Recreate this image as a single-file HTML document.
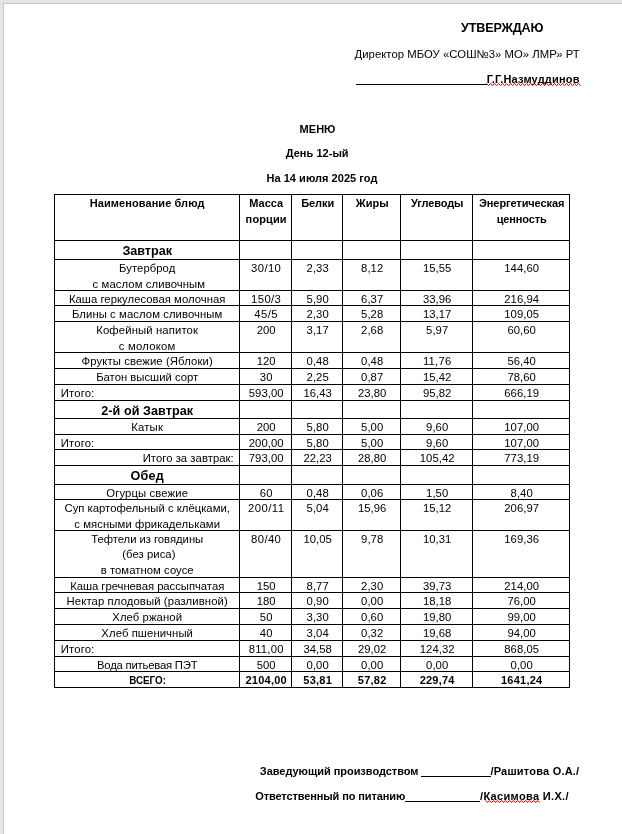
<!DOCTYPE html>
<html lang="ru"><head><meta charset="utf-8"><title>Меню</title>
<style>
html,body{margin:0;padding:0}
body{width:622px;height:834px;overflow:hidden;background:#e6e6e6;position:relative;font-family:"Liberation Sans",sans-serif;color:#000}
#page{position:absolute;left:3px;top:3px;width:619px;height:831px;background:#fff;box-shadow:inset 1px 1px 0 #c3c3c3}
#doc{position:absolute;left:0;top:0;width:622px;height:834px;will-change:transform}
.t{position:absolute;white-space:nowrap;line-height:15px;height:15px;text-align:center;font-size:11.3px}
.b{font-weight:bold;font-size:11.0px}
.h{font-weight:bold;font-size:12.6px}
.hl{position:absolute;left:54px;width:516px;height:1px;background:#000}
.vl{position:absolute;top:194px;height:494px;width:1px;background:#000}
.wv{position:absolute;overflow:visible}
.ul{position:absolute;height:1px;background:#000}
</style></head><body>
<div id="page"></div>
<div id="doc">
<div class="hl" style="top:194px"></div>
<div class="hl" style="top:240px"></div>
<div class="hl" style="top:259px"></div>
<div class="hl" style="top:290px"></div>
<div class="hl" style="top:305px"></div>
<div class="hl" style="top:321px"></div>
<div class="hl" style="top:352px"></div>
<div class="hl" style="top:368px"></div>
<div class="hl" style="top:384px"></div>
<div class="hl" style="top:400px"></div>
<div class="hl" style="top:418px"></div>
<div class="hl" style="top:434px"></div>
<div class="hl" style="top:449px"></div>
<div class="hl" style="top:465px"></div>
<div class="hl" style="top:484px"></div>
<div class="hl" style="top:499px"></div>
<div class="hl" style="top:530px"></div>
<div class="hl" style="top:577px"></div>
<div class="hl" style="top:592px"></div>
<div class="hl" style="top:608px"></div>
<div class="hl" style="top:624px"></div>
<div class="hl" style="top:640px"></div>
<div class="hl" style="top:656px"></div>
<div class="hl" style="top:671px"></div>
<div class="hl" style="top:687px"></div>
<div class="vl" style="left:54px"></div>
<div class="vl" style="left:239px"></div>
<div class="vl" style="left:291px"></div>
<div class="vl" style="left:342px"></div>
<div class="vl" style="left:400px"></div>
<div class="vl" style="left:472px"></div>
<div class="vl" style="left:569px"></div>
<div class="t b" style="left:55.20px;top:195.80px;width:184.00px;letter-spacing:0.069px;"><span>Наименование блюд</span></div>
<div class="t b" style="left:240.70px;top:195.80px;width:51.00px;letter-spacing:-0.034px;"><span>Масса</span></div>
<div class="t b" style="left:240.70px;top:211.80px;width:51.00px;letter-spacing:0.128px;"><span>порции</span></div>
<div class="t b" style="left:292.70px;top:195.80px;width:50.00px;letter-spacing:-0.090px;"><span>Белки</span></div>
<div class="t b" style="left:343.70px;top:195.80px;width:57.00px;letter-spacing:0.056px;"><span>Жиры</span></div>
<div class="t b" style="left:401.70px;top:195.80px;width:71.00px;letter-spacing:-0.108px;"><span>Углеводы</span></div>
<div class="t b" style="left:473.70px;top:195.80px;width:96.00px;letter-spacing:-0.095px;"><span>Энергетическая</span></div>
<div class="t b" style="left:473.70px;top:211.80px;width:96.00px;letter-spacing:-0.130px;"><span>ценность</span></div>
<div class="t h" style="left:55.20px;top:243.80px;width:184.00px;letter-spacing:-0.022px;"><span>Завтрак</span></div>
<div class="t n" style="left:55.20px;top:260.80px;width:184.00px;letter-spacing:0.065px;"><span>Бутерброд</span></div>
<div class="t n" style="left:56.90px;top:276.80px;width:184.00px;letter-spacing:0.100px;"><span>с маслом сливочным</span></div>
<div class="t n" style="left:240.70px;top:260.80px;width:51.00px;letter-spacing:0.392px;"><span>30/10</span></div>
<div class="t n" style="left:292.70px;top:260.80px;width:50.00px;letter-spacing:0.045px;"><span>2,33</span></div>
<div class="t n" style="left:343.70px;top:260.80px;width:57.00px;letter-spacing:0.045px;"><span>8,12</span></div>
<div class="t n" style="left:401.70px;top:260.80px;width:71.00px;letter-spacing:0.050px;"><span>15,55</span></div>
<div class="t n" style="left:473.70px;top:260.80px;width:96.00px;letter-spacing:0.053px;"><span>144,60</span></div>
<div class="t n" style="left:55.20px;top:291.80px;width:184.00px;letter-spacing:0.031px;"><span>Каша геркулесовая молочная</span></div>
<div class="t n" style="left:240.70px;top:291.80px;width:51.00px;letter-spacing:0.392px;"><span>150/3</span></div>
<div class="t n" style="left:292.70px;top:291.80px;width:50.00px;letter-spacing:0.045px;"><span>5,90</span></div>
<div class="t n" style="left:343.70px;top:291.80px;width:57.00px;letter-spacing:0.045px;"><span>6,37</span></div>
<div class="t n" style="left:401.70px;top:291.80px;width:71.00px;letter-spacing:0.050px;"><span>33,96</span></div>
<div class="t n" style="left:473.70px;top:291.80px;width:96.00px;letter-spacing:0.053px;"><span>216,94</span></div>
<div class="t n" style="left:55.20px;top:306.80px;width:184.00px;letter-spacing:0.079px;"><span>Блины с маслом сливочным</span></div>
<div class="t n" style="left:240.70px;top:306.80px;width:51.00px;letter-spacing:0.473px;"><span>45/5</span></div>
<div class="t n" style="left:292.70px;top:306.80px;width:50.00px;letter-spacing:0.045px;"><span>2,30</span></div>
<div class="t n" style="left:343.70px;top:306.80px;width:57.00px;letter-spacing:0.045px;"><span>5,28</span></div>
<div class="t n" style="left:401.70px;top:306.80px;width:71.00px;letter-spacing:0.050px;"><span>13,17</span></div>
<div class="t n" style="left:473.70px;top:306.80px;width:96.00px;letter-spacing:0.053px;"><span>109,05</span></div>
<div class="t n" style="left:55.20px;top:322.80px;width:184.00px;letter-spacing:0.129px;"><span>Кофейный напиток</span></div>
<div class="t n" style="left:55.20px;top:338.80px;width:184.00px;letter-spacing:0.220px;"><span>с молоком</span></div>
<div class="t n" style="left:240.70px;top:322.80px;width:51.00px;letter-spacing:0.064px;"><span>200</span></div>
<div class="t n" style="left:292.70px;top:322.80px;width:50.00px;letter-spacing:0.045px;"><span>3,17</span></div>
<div class="t n" style="left:343.70px;top:322.80px;width:57.00px;letter-spacing:0.045px;"><span>2,68</span></div>
<div class="t n" style="left:401.70px;top:322.80px;width:71.00px;letter-spacing:0.045px;"><span>5,97</span></div>
<div class="t n" style="left:473.70px;top:322.80px;width:96.00px;letter-spacing:0.050px;"><span>60,60</span></div>
<div class="t n" style="left:55.20px;top:353.80px;width:184.00px;letter-spacing:0.108px;"><span>Фрукты свежие (Яблоки)</span></div>
<div class="t n" style="left:240.70px;top:353.80px;width:51.00px;letter-spacing:0.064px;"><span>120</span></div>
<div class="t n" style="left:292.70px;top:353.80px;width:50.00px;letter-spacing:0.045px;"><span>0,48</span></div>
<div class="t n" style="left:343.70px;top:353.80px;width:57.00px;letter-spacing:0.045px;"><span>0,48</span></div>
<div class="t n" style="left:401.70px;top:353.80px;width:71.00px;letter-spacing:0.218px;"><span>11,76</span></div>
<div class="t n" style="left:473.70px;top:353.80px;width:96.00px;letter-spacing:0.050px;"><span>56,40</span></div>
<div class="t n" style="left:55.20px;top:369.80px;width:184.00px;letter-spacing:0.002px;"><span>Батон высший сорт</span></div>
<div class="t n" style="left:240.70px;top:369.80px;width:51.00px;letter-spacing:0.062px;"><span>30</span></div>
<div class="t n" style="left:292.70px;top:369.80px;width:50.00px;letter-spacing:0.045px;"><span>2,25</span></div>
<div class="t n" style="left:343.70px;top:369.80px;width:57.00px;letter-spacing:0.045px;"><span>0,87</span></div>
<div class="t n" style="left:401.70px;top:369.80px;width:71.00px;letter-spacing:0.050px;"><span>15,42</span></div>
<div class="t n" style="left:473.70px;top:369.80px;width:96.00px;letter-spacing:0.050px;"><span>78,60</span></div>
<div class="t n" style="left:60.80px;top:385.80px;width:177.00px;text-align:left;letter-spacing:0.127px;"><span>Итого:</span></div>
<div class="t n" style="left:240.70px;top:385.80px;width:51.00px;letter-spacing:0.053px;"><span>593,00</span></div>
<div class="t n" style="left:292.70px;top:385.80px;width:50.00px;letter-spacing:0.050px;"><span>16,43</span></div>
<div class="t n" style="left:343.70px;top:385.80px;width:57.00px;letter-spacing:0.050px;"><span>23,80</span></div>
<div class="t n" style="left:401.70px;top:385.80px;width:71.00px;letter-spacing:0.050px;"><span>95,82</span></div>
<div class="t n" style="left:473.70px;top:385.80px;width:96.00px;letter-spacing:0.053px;"><span>666,19</span></div>
<div class="t h" style="left:55.20px;top:403.80px;width:184.00px;letter-spacing:0.079px;"><span>2-й ой Завтрак</span></div>
<div class="t n" style="left:55.20px;top:419.80px;width:184.00px;letter-spacing:0.174px;"><span>Катык</span></div>
<div class="t n" style="left:240.70px;top:419.80px;width:51.00px;letter-spacing:0.064px;"><span>200</span></div>
<div class="t n" style="left:292.70px;top:419.80px;width:50.00px;letter-spacing:0.045px;"><span>5,80</span></div>
<div class="t n" style="left:343.70px;top:419.80px;width:57.00px;letter-spacing:0.045px;"><span>5,00</span></div>
<div class="t n" style="left:401.70px;top:419.80px;width:71.00px;letter-spacing:0.045px;"><span>9,60</span></div>
<div class="t n" style="left:473.70px;top:419.80px;width:96.00px;letter-spacing:0.053px;"><span>107,00</span></div>
<div class="t n" style="left:60.80px;top:435.80px;width:177.00px;text-align:left;letter-spacing:0.127px;"><span>Итого:</span></div>
<div class="t n" style="left:240.70px;top:435.80px;width:51.00px;letter-spacing:0.053px;"><span>200,00</span></div>
<div class="t n" style="left:292.70px;top:435.80px;width:50.00px;letter-spacing:0.045px;"><span>5,80</span></div>
<div class="t n" style="left:343.70px;top:435.80px;width:57.00px;letter-spacing:0.045px;"><span>5,00</span></div>
<div class="t n" style="left:401.70px;top:435.80px;width:71.00px;letter-spacing:0.045px;"><span>9,60</span></div>
<div class="t n" style="left:473.70px;top:435.80px;width:96.00px;letter-spacing:0.053px;"><span>107,00</span></div>
<div class="t n" style="left:55.20px;top:450.80px;width:178.50px;text-align:right;letter-spacing:0.037px;"><span>Итого за завтрак:</span></div>
<div class="t n" style="left:240.70px;top:450.80px;width:51.00px;letter-spacing:0.053px;"><span>793,00</span></div>
<div class="t n" style="left:292.70px;top:450.80px;width:50.00px;letter-spacing:0.050px;"><span>22,23</span></div>
<div class="t n" style="left:343.70px;top:450.80px;width:57.00px;letter-spacing:0.050px;"><span>28,80</span></div>
<div class="t n" style="left:401.70px;top:450.80px;width:71.00px;letter-spacing:0.053px;"><span>105,42</span></div>
<div class="t n" style="left:473.70px;top:450.80px;width:96.00px;letter-spacing:0.053px;"><span>773,19</span></div>
<div class="t h" style="left:55.20px;top:468.80px;width:184.00px;letter-spacing:0.188px;"><span>Обед</span></div>
<div class="t n" style="left:55.20px;top:485.80px;width:184.00px;letter-spacing:0.120px;"><span>Огурцы свежие</span></div>
<div class="t n" style="left:240.70px;top:485.80px;width:51.00px;letter-spacing:0.062px;"><span>60</span></div>
<div class="t n" style="left:292.70px;top:485.80px;width:50.00px;letter-spacing:0.045px;"><span>0,48</span></div>
<div class="t n" style="left:343.70px;top:485.80px;width:57.00px;letter-spacing:0.045px;"><span>0,06</span></div>
<div class="t n" style="left:401.70px;top:485.80px;width:71.00px;letter-spacing:0.045px;"><span>1,50</span></div>
<div class="t n" style="left:473.70px;top:485.80px;width:96.00px;letter-spacing:0.045px;"><span>8,40</span></div>
<div class="t n" style="left:55.20px;top:500.80px;width:184.00px;letter-spacing:0.003px;"><span>Суп картофельный с клёцками,</span></div>
<div class="t n" style="left:55.20px;top:516.80px;width:184.00px;letter-spacing:0.089px;"><span>с мясными фрикадельками</span></div>
<div class="t n" style="left:240.70px;top:500.80px;width:51.00px;letter-spacing:0.479px;"><span>200/11</span></div>
<div class="t n" style="left:292.70px;top:500.80px;width:50.00px;letter-spacing:0.045px;"><span>5,04</span></div>
<div class="t n" style="left:343.70px;top:500.80px;width:57.00px;letter-spacing:0.050px;"><span>15,96</span></div>
<div class="t n" style="left:401.70px;top:500.80px;width:71.00px;letter-spacing:0.050px;"><span>15,12</span></div>
<div class="t n" style="left:473.70px;top:500.80px;width:96.00px;letter-spacing:0.053px;"><span>206,97</span></div>
<div class="t n" style="left:55.20px;top:531.80px;width:184.00px;letter-spacing:-0.035px;"><span>Тефтели из говядины</span></div>
<div class="t n" style="left:56.90px;top:546.80px;width:184.00px;letter-spacing:0.055px;"><span>(без риса)</span></div>
<div class="t n" style="left:55.20px;top:562.80px;width:184.00px;letter-spacing:0.048px;"><span>в томатном соусе</span></div>
<div class="t n" style="left:240.70px;top:531.80px;width:51.00px;letter-spacing:0.392px;"><span>80/40</span></div>
<div class="t n" style="left:292.70px;top:531.80px;width:50.00px;letter-spacing:0.050px;"><span>10,05</span></div>
<div class="t n" style="left:343.70px;top:531.80px;width:57.00px;letter-spacing:0.045px;"><span>9,78</span></div>
<div class="t n" style="left:401.70px;top:531.80px;width:71.00px;letter-spacing:0.050px;"><span>10,31</span></div>
<div class="t n" style="left:473.70px;top:531.80px;width:96.00px;letter-spacing:0.053px;"><span>169,36</span></div>
<div class="t n" style="left:55.20px;top:578.80px;width:184.00px;letter-spacing:-0.034px;"><span>Каша гречневая рассыпчатая</span></div>
<div class="t n" style="left:240.70px;top:578.80px;width:51.00px;letter-spacing:0.064px;"><span>150</span></div>
<div class="t n" style="left:292.70px;top:578.80px;width:50.00px;letter-spacing:0.045px;"><span>8,77</span></div>
<div class="t n" style="left:343.70px;top:578.80px;width:57.00px;letter-spacing:0.045px;"><span>2,30</span></div>
<div class="t n" style="left:401.70px;top:578.80px;width:71.00px;letter-spacing:0.050px;"><span>39,73</span></div>
<div class="t n" style="left:473.70px;top:578.80px;width:96.00px;letter-spacing:0.053px;"><span>214,00</span></div>
<div class="t n" style="left:55.20px;top:593.80px;width:184.00px;letter-spacing:0.109px;"><span>Нектар плодовый (разливной)</span></div>
<div class="t n" style="left:240.70px;top:593.80px;width:51.00px;letter-spacing:0.064px;"><span>180</span></div>
<div class="t n" style="left:292.70px;top:593.80px;width:50.00px;letter-spacing:0.045px;"><span>0,90</span></div>
<div class="t n" style="left:343.70px;top:593.80px;width:57.00px;letter-spacing:0.045px;"><span>0,00</span></div>
<div class="t n" style="left:401.70px;top:593.80px;width:71.00px;letter-spacing:0.050px;"><span>18,18</span></div>
<div class="t n" style="left:473.70px;top:593.80px;width:96.00px;letter-spacing:0.050px;"><span>76,00</span></div>
<div class="t n" style="left:55.20px;top:609.80px;width:184.00px;letter-spacing:0.075px;"><span>Хлеб ржаной</span></div>
<div class="t n" style="left:240.70px;top:609.80px;width:51.00px;letter-spacing:0.062px;"><span>50</span></div>
<div class="t n" style="left:292.70px;top:609.80px;width:50.00px;letter-spacing:0.045px;"><span>3,30</span></div>
<div class="t n" style="left:343.70px;top:609.80px;width:57.00px;letter-spacing:0.045px;"><span>0,60</span></div>
<div class="t n" style="left:401.70px;top:609.80px;width:71.00px;letter-spacing:0.050px;"><span>19,80</span></div>
<div class="t n" style="left:473.70px;top:609.80px;width:96.00px;letter-spacing:0.050px;"><span>99,00</span></div>
<div class="t n" style="left:55.20px;top:625.80px;width:184.00px;letter-spacing:0.087px;"><span>Хлеб пшеничный</span></div>
<div class="t n" style="left:240.70px;top:625.80px;width:51.00px;letter-spacing:0.062px;"><span>40</span></div>
<div class="t n" style="left:292.70px;top:625.80px;width:50.00px;letter-spacing:0.045px;"><span>3,04</span></div>
<div class="t n" style="left:343.70px;top:625.80px;width:57.00px;letter-spacing:0.045px;"><span>0,32</span></div>
<div class="t n" style="left:401.70px;top:625.80px;width:71.00px;letter-spacing:0.050px;"><span>19,68</span></div>
<div class="t n" style="left:473.70px;top:625.80px;width:96.00px;letter-spacing:0.050px;"><span>94,00</span></div>
<div class="t n" style="left:60.80px;top:641.80px;width:177.00px;text-align:left;letter-spacing:0.127px;"><span>Итого:</span></div>
<div class="t n" style="left:240.70px;top:641.80px;width:51.00px;letter-spacing:0.194px;"><span>811,00</span></div>
<div class="t n" style="left:292.70px;top:641.80px;width:50.00px;letter-spacing:0.050px;"><span>34,58</span></div>
<div class="t n" style="left:343.70px;top:641.80px;width:57.00px;letter-spacing:0.050px;"><span>29,02</span></div>
<div class="t n" style="left:401.70px;top:641.80px;width:71.00px;letter-spacing:0.053px;"><span>124,32</span></div>
<div class="t n" style="left:473.70px;top:641.80px;width:96.00px;letter-spacing:0.053px;"><span>868,05</span></div>
<div class="t n" style="left:55.20px;top:657.80px;width:184.00px;letter-spacing:-0.206px;"><span>Вода питьевая ПЭТ</span></div>
<div class="t n" style="left:240.70px;top:657.80px;width:51.00px;letter-spacing:0.064px;"><span>500</span></div>
<div class="t n" style="left:292.70px;top:657.80px;width:50.00px;letter-spacing:0.045px;"><span>0,00</span></div>
<div class="t n" style="left:343.70px;top:657.80px;width:57.00px;letter-spacing:0.045px;"><span>0,00</span></div>
<div class="t n" style="left:401.70px;top:657.80px;width:71.00px;letter-spacing:0.045px;"><span>0,00</span></div>
<div class="t n" style="left:473.70px;top:657.80px;width:96.00px;letter-spacing:0.045px;"><span>0,00</span></div>
<div class="t b" style="left:55.20px;top:672.80px;width:184.00px;"><span style="display:inline-block;transform:scaleX(0.8931);transform-origin:50% 50%">ВСЕГО:</span></div>
<div class="t b" style="left:240.70px;top:672.80px;width:51.00px;letter-spacing:0.224px;"><span>2104,00</span></div>
<div class="t b" style="left:292.70px;top:672.80px;width:50.00px;letter-spacing:0.220px;"><span>53,81</span></div>
<div class="t b" style="left:343.70px;top:672.80px;width:57.00px;letter-spacing:0.220px;"><span>57,82</span></div>
<div class="t b" style="left:401.70px;top:672.80px;width:71.00px;letter-spacing:0.221px;"><span>229,74</span></div>
<div class="t b" style="left:473.70px;top:672.80px;width:96.00px;letter-spacing:0.224px;"><span>1641,24</span></div>
<div class="t h" style="left:461.00px;top:20.80px;width:81.70px;text-align:left;letter-spacing:-0.146px;"><span>УТВЕРЖДАЮ</span></div>
<div class="t n" style="left:354.50px;top:46.80px;width:222.50px;text-align:left;letter-spacing:0.044px;"><span>Директор МБОУ «СОШ№3» МО» ЛМР» РТ</span></div>
<div class="t b" style="left:486.80px;top:71.80px;width:92.20px;text-align:left;letter-spacing:0.199px;"><span>Г.Г.Назмуддинов</span></div>
<div class="t b" style="left:299.60px;top:121.80px;width:35.30px;text-align:left;letter-spacing:0.026px;"><span>МЕНЮ</span></div>
<div class="t b" style="left:285.70px;top:145.80px;width:62.70px;text-align:left;letter-spacing:0.035px;"><span>День 12-ый</span></div>
<div class="t b" style="left:266.50px;top:170.80px;width:109.90px;text-align:left;letter-spacing:0.033px;"><span>На 14 июля 2025 год</span></div>
<div class="t b" style="left:259.80px;top:763.80px;width:157.40px;text-align:left;letter-spacing:-0.034px;"><span>Заведующий производством</span></div>
<div class="t b" style="left:490.40px;top:763.80px;width:88.60px;text-align:left;letter-spacing:0.219px;"><span>/Рашитова О.А./</span></div>
<div class="t b" style="left:255.30px;top:788.80px;width:149.00px;text-align:left;letter-spacing:-0.115px;"><span>Ответственный по питанию</span></div>
<div class="t b" style="left:480.00px;top:788.80px;width:87.70px;text-align:left;letter-spacing:0.335px;"><span>/Касимова И.Х./</span></div>
<svg class="wv" style="left:0;top:0" width="622" height="834" viewBox="0 0 622 834"><polyline points="486.50,83.40 488.50,85.70 490.50,83.40 492.50,85.70 494.50,83.40 496.50,85.70 498.50,83.40 500.50,85.70 502.50,83.40 504.50,85.70 506.50,83.40 508.50,85.70 510.50,83.40 512.50,85.70 514.50,83.40 516.50,85.70 518.50,83.40 520.50,85.70 522.50,83.40 524.50,85.70 526.50,83.40 528.50,85.70 530.50,83.40 532.50,85.70 534.50,83.40 536.50,85.70 538.50,83.40 540.50,85.70 542.50,83.40 544.50,85.70 546.50,83.40 548.50,85.70 550.50,83.40 552.50,85.70 554.50,83.40 556.50,85.70 558.50,83.40 560.50,85.70 562.50,83.40 564.50,85.70 566.50,83.40 568.50,85.70 570.50,83.40 572.50,85.70 574.50,83.40 576.50,85.70 578.50,83.40 580.50,85.70" fill="none" stroke="#ff0000" stroke-width="1" stroke-linejoin="miter"/><polyline points="485.50,800.40 487.50,802.70 489.50,800.40 491.50,802.70 493.50,800.40 495.50,802.70 497.50,800.40 499.50,802.70 501.50,800.40 503.50,802.70 505.50,800.40 507.50,802.70 509.50,800.40 511.50,802.70 513.50,800.40 515.50,802.70 517.50,800.40 519.50,802.70 521.50,800.40 523.50,802.70 525.50,800.40 527.50,802.70 529.50,800.40 531.50,802.70 533.50,800.40 535.50,802.70 537.50,800.40 539.50,802.70" fill="none" stroke="#ff0000" stroke-width="1" stroke-linejoin="miter"/></svg><div class="ul" style="left:355.5px;top:84px;width:131px"></div><div class="ul" style="left:421.1px;top:776px;width:69.5px"></div><div class="ul" style="left:405px;top:801px;width:75.2px"></div>
</div>
</body></html>
